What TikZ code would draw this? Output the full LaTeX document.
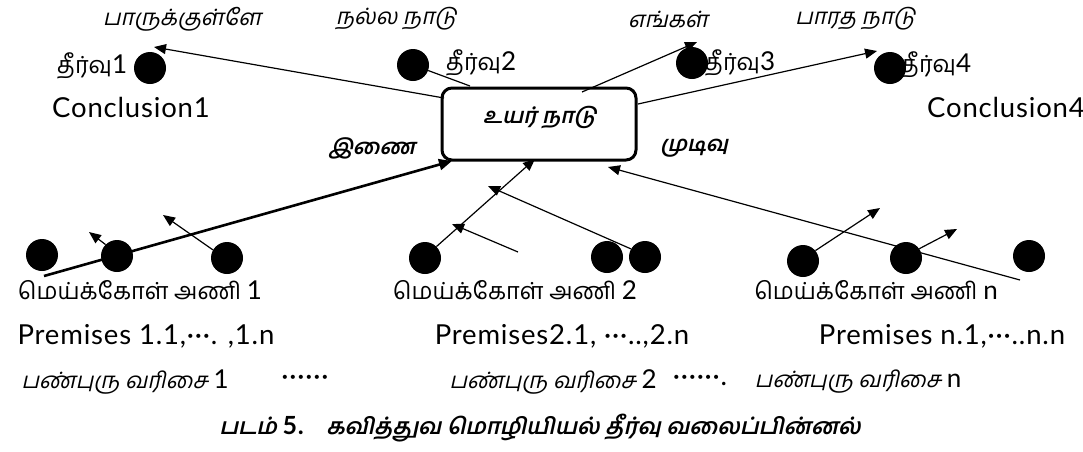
\documentclass[tikz,border=0pt]{standalone}
\usepackage{fontspec}
\usetikzlibrary{arrows.meta}
\newfontfamily\ta[Script=Tamil]{Hind Madurai}
\newfontfamily\tait[Script=Tamil,FakeSlant=0.22]{Hind Madurai}
\newfontfamily\lat[LetterSpace=3]{Lato}
% Latin digits and letters set inside Tamil labels
\newcommand\dg[1]{{\lat\fontsize{26}{28}\selectfont #1}}
\begin{document}
\begin{tikzpicture}[x=1pt,y=-1pt,
  lbl/.style={inner sep=0pt},
  tam/.style={lbl,font=\ta\fontsize{23.5}{26}\selectfont},
  tamit/.style={lbl,font=\tait\fontsize{22.5}{26}\selectfont},
  tambf/.style={lbl,font=\tait\bfseries\fontsize{21.5}{24}\selectfont},
  eng/.style={lbl,font=\lat\fontsize{27.5}{30}\selectfont},
  dot/.style={circle,fill=black,minimum size=32pt,inner sep=0pt},
  hub/.style={draw,rounded corners=10pt,line width=3pt,minimum width=194pt,minimum height=72pt,inner sep=0pt},
  con/.style={line width=1.2pt},
  arr/.style={con,-{Triangle[length=12pt,width=10pt]}},
  thick arr/.style={line width=2.6pt,-{Triangle[length=13pt,width=11pt]}}]
\useasboundingbox (0,0) rectangle (1083,451);

% central box
\node[hub] (hub) at (539,124) {};
\node[tambf] (hubtxt) at (540,118) {உயர் நாடு};
\node[tambf] (inai) at (372,148) {இணை};
\node[tambf] (mudivu) at (694,148) {முடிவு};

% conclusions: headings above
\node[tamit] (h1) at (182,19) {பாருக்குள்ளே};
\node[tamit] (h2) at (396,19) {நல்ல நாடு};
\node[tamit] (h3) at (668,19) {எங்கள்};
\node[tamit] (h4) at (855,19) {பாரத நாடு};

% conclusion dots and labels
\node[dot] (c1) at (150,68) {};
\node[dot] (c2) at (413,65) {};
\node[dot] (c3) at (692,63) {};
\node[dot] (c4) at (890,68) {};
\node[tam] (l1) at (92,66) {தீர்வு\dg{1}};
\node[tam] (l2) at (481,63) {தீர்வு\dg{2}};
\node[tam] (l3) at (740,63) {தீர்வு\dg{3}};
\node[tam] (l4) at (936,65) {தீர்வு\dg{4}};
\node[eng] (e1) at (131,107) {Conclusion1};
\node[eng] (e4) at (1006,107) {Conclusion4};

% premise dots
\node[dot] (a1) at (42,255) {};
\node[dot] (a2) at (117,256) {};
\node[dot] (a3) at (227,258) {};
\node[dot] (b1) at (425,258) {};
\node[dot] (b2) at (607,257) {};
\node[dot] (b3) at (645,257) {};
\node[dot] (n1) at (803,261) {};
\node[dot] (n2) at (906,258) {};
\node[dot] (n3) at (1029,256) {};

% set labels
\node[tam] (s1) at (140,290) {மெய்க்கோள் அணி \dg{1}};
\node[tam] (s2) at (515,290) {மெய்க்கோள் அணி \dg{2}};
\node[tam] (s3) at (876,290) {மெய்க்கோள் அணி \dg{n}};
\node[eng] (p1) at (146,336) {Premises 1.1,···. ,1.n};
\node[eng] (p2) at (562,336) {Premises2.1, ···..,2.n};
\node[eng] (p3) at (942,336) {Premises n.1,···..n.n};
\node[tamit] (r1) at (125,382) {பண்புரு வரிசை \dg{1}};
\node[eng] (r1d) at (305,380) {······};
\node[tamit] (r2) at (553,382) {பண்புரு வரிசை \dg{2}};
\node[eng] (r2d) at (700,380) {······.};
\node[tamit] (r3) at (858,382) {பண்புரு வரிசை \dg{n}};

% caption
\node[lbl,font=\tait\bfseries\fontsize{22.5}{26}\selectfont] (cap) at (540,428) {படம் {\lat\bfseries\fontsize{25}{26}\selectfont 5.}\quad கவித்துவ மொழியியல் தீர்வு வலைப்பின்னல்};

% attachment points
\coordinate (hw) at (444,98);
\coordinate (hn2) at (470,86);
\coordinate (hn3) at (582,92);
\coordinate (he) at (638,104);
\coordinate (t1) at (154,47);
\coordinate (t3) at (697,42);
\coordinate (t4) at (877,51);
\coordinate (hs1) at (452,161);
\coordinate (hs2) at (535,159);
\coordinate (hs3) at (608,167);
\coordinate (q1) at (44,276);
\coordinate (q2) at (518,252);
\coordinate (q3) at (1020,280);
\coordinate (u1) at (89,232);
\coordinate (u2) at (163,215);
\coordinate (u3) at (452,224);
\coordinate (u4) at (488,186);
\coordinate (u5) at (880,208);
\coordinate (u6) at (957,229);

% connectors to conclusions
\draw[arr] (hw) -- (t1);
\draw[con] (hn2) -- (c2.-20);
\draw[arr] (hn3) -- (t3);
\draw[arr] (he) -- (t4);

% connectors from premises
\draw[thick arr] (q1) -- (hs1);
\draw[arr] (b1.45) -- (hs2);
\draw[arr] (q3) -- (hs3);
\draw[arr] (a2.135) -- (u1);
\draw[arr] (a3.150) -- (u2);
\draw[arr] (q2) -- (u3);
\draw[arr] (b3.150) -- (u4);
\draw[arr] (n1.40) -- (u5);
\draw[arr] (n2.35) -- (u6);
\end{tikzpicture}
\end{document}
